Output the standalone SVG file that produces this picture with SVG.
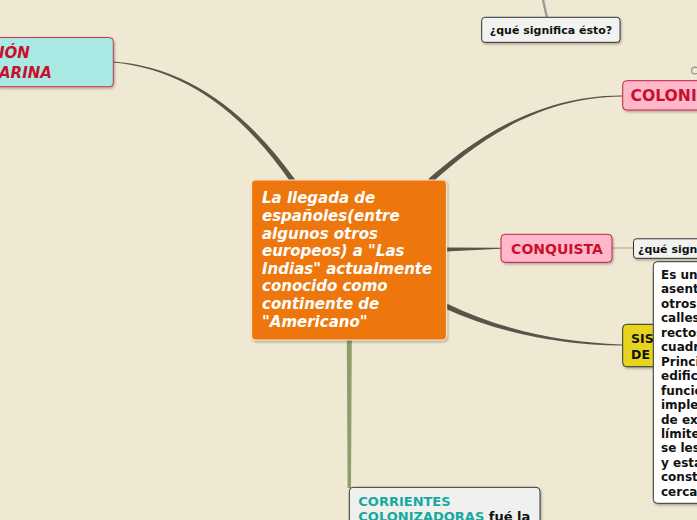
<svg xmlns="http://www.w3.org/2000/svg" width="697" height="520" viewBox="0 0 697 520">
<defs>
<filter id="sh" x="-10%" y="-10%" width="130%" height="140%">
<feDropShadow dx="1" dy="1.5" stdDeviation="1" flood-color="#000" flood-opacity="0.3"/>
</filter>
<style>
.t{font-family:"DejaVu Sans","Verdana",sans-serif;font-weight:bold}
.taper{fill:#59544A}
.pink{fill:#FFB7CA;stroke:#C81E45;stroke-width:1}
.pinkt{fill:#C8102E;font-size:14px}
.note{fill:#F2F2F0;stroke:#333;stroke-width:1}
.notet{fill:#111;font-size:11px}
</style>
</defs>
<rect width="697" height="520" fill="#EFE8D3"/>

<g id="connectors">
<path class="taper" d="M112.96,62.6 Q214.3,71.4 290.9,182.6 L295.1,179.6 Q215.7,68.6 113.04,61.4 Z"/>
<path class="taper" d="M431.7,183 C466.2,151.6 530.4,97.1 622,96.6 L622,95.4 C529.6,94.9 463.8,148.4 428.3,179 Z"/>
<path class="taper" d="M446,251.5 L501,248.8 L501,247.7 L446,247.6 Z"/>
<path class="taper" d="M444.8,308.4 Q524.7,344.5 622,345.6 L622,344.4 Q525.3,341.5 447.2,303.7 Z"/>
<path d="M346.8,340 L347.6,488 L351,488 L351.8,340 Z" fill="#8E9D6C"/>
<line x1="543" y1="0" x2="547" y2="17.5" stroke="#9B9B9B" stroke-width="2.4"/>
<line x1="612" y1="248" x2="634" y2="248" stroke="#A39D8C" stroke-width="1"/>
</g>

<g id="node-left">
<rect x="-6" y="37.5" width="119.3" height="49.2" rx="4" fill="#A9E8E3" stroke="#C4384F" stroke-width="1" filter="url(#sh)"/>
<text class="t" x="-1" y="58.3" font-size="15" font-style="italic" fill="#C8102E">IÓN</text>
<text class="t" x="-1" y="77.7" font-size="15" font-style="italic" fill="#C8102E">ARINA</text>
</g>

<g id="node-question-top">
<rect class="note" x="481.7" y="17.3" width="138.3" height="25" rx="3" filter="url(#sh)"/>
<text class="t notet" x="551" y="34" text-anchor="middle">¿qué significa ésto?</text>
</g>

<g id="node-colonizacion">
<circle cx="695" cy="70.5" r="3.4" fill="none" stroke="#8F8F8F" stroke-width="1.1"/>
<rect class="pink" x="622.7" y="80.7" width="90" height="29.3" rx="4" filter="url(#sh)"/>
<text class="t pinkt" x="630.5" y="101" style="font-size:15.6px">COLONI</text>
</g>

<g id="node-central">
<rect x="251.5" y="180" width="195" height="160" rx="4" fill="#EE770E" stroke="#FBE3C8" stroke-width="1.2" filter="url(#sh)"/>
<g class="t" font-size="15" font-style="italic" fill="#FFFFFF">
<text x="262" y="203.3">La llegada de</text>
<text x="262" y="220.9">españoles(entre</text>
<text x="262" y="238.5">algunos otros</text>
<text x="262" y="256.1">europeos) a "Las</text>
<text x="262" y="273.7">Indias" actualmente</text>
<text x="262" y="291.3">conocido como</text>
<text x="262" y="308.9">continente de</text>
<text x="262" y="326.5">"Americano"</text>
</g>
</g>

<g id="node-conquista">
<rect class="pink" x="501" y="234.3" width="111" height="28" rx="4" filter="url(#sh)"/>
<text class="t pinkt" x="557" y="254.3" text-anchor="middle">CONQUISTA</text>
</g>

<g id="node-question-right">
<rect class="note" x="633.5" y="238.8" width="80" height="19.5" rx="3" fill="#F8F8F6" filter="url(#sh)"/>
<text class="t notet" x="638" y="252.5">¿qué sign</text>
</g>

<g id="node-sistema">
<rect x="622.7" y="324.3" width="60" height="42.4" rx="4" fill="#E6D51E" stroke="#333" stroke-width="1" filter="url(#sh)"/>
<text class="t" x="631" y="342.5" font-size="12.5" fill="#111">SIS</text>
<text class="t" x="631" y="358.5" font-size="12.5" fill="#111">DE</text>
</g>

<g id="node-description">
<rect x="653.3" y="261.7" width="60" height="241.6" rx="4" fill="#FFFFFF" stroke="#333" stroke-width="1" filter="url(#sh)"/>
<g class="t" font-size="12" fill="#111">
<text x="661" y="279">Es un</text>
<text x="661" y="293.45">asent</text>
<text x="661" y="307.9">otros</text>
<text x="661" y="322.35">calles</text>
<text x="661" y="336.8">rectos</text>
<text x="661" y="351.25">cuadr</text>
<text x="661" y="365.7">Princi</text>
<text x="661" y="380.15">edific</text>
<text x="661" y="394.6">funcio</text>
<text x="661" y="409.05">imple</text>
<text x="661" y="423.5">de ex</text>
<text x="661" y="437.95">límite</text>
<text x="661" y="452.4">se les</text>
<text x="661" y="466.85">y esta</text>
<text x="661" y="481.3">const</text>
<text x="661" y="495.75">cerca</text>
</g>
</g>

<g id="node-corrientes">
<rect x="349.3" y="487.3" width="190.7" height="50" rx="4" fill="#F0F0EE" stroke="#333" stroke-width="1" filter="url(#sh)"/>
<text class="t" x="358.3" y="506" font-size="13" fill="#17A8A0">CORRIENTES</text>
<text class="t" x="358.3" y="521" font-size="13" fill="#17A8A0">COLONIZADORAS <tspan fill="#111">fué la</tspan></text>
</g>
</svg>
